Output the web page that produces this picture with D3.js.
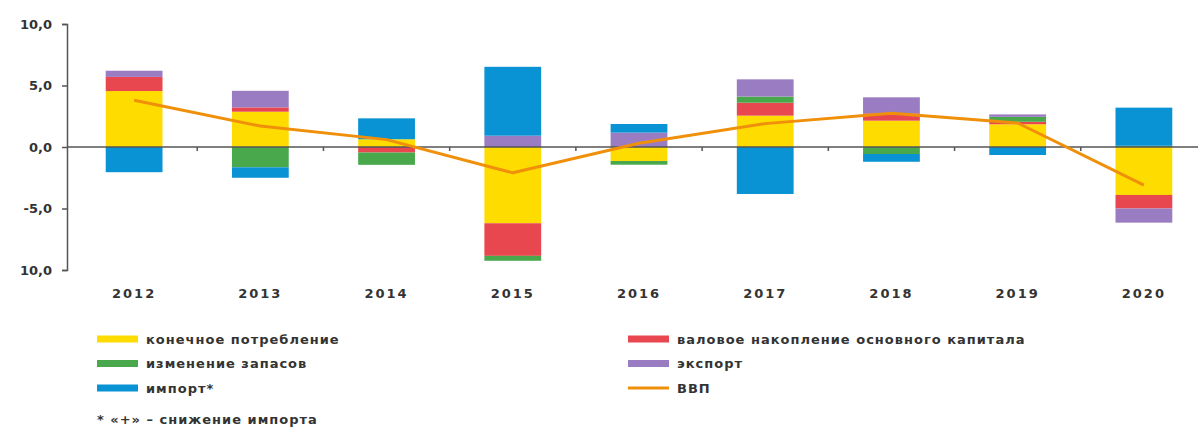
<!DOCTYPE html>
<html>
<head>
<meta charset="utf-8">
<script src="https://cdn.jsdelivr.net/npm/d3@7"></script>
<style>
  body { margin: 0; background: #fff; }
  svg { display: block; font-family: "DejaVu Sans", sans-serif; }
</style>
</head>
<body>
<div id="chart"></div>
<script>
// Вклад компонентов в рост ВВП, п.п.
const years = ['2012', '2013', '2014', '2015', '2016', '2017', '2018', '2019', '2020'];
const consumption = [4.55, 2.87, 0.63, -6.2, -1.14, 2.55, 2.14, 1.85, -3.9];
const investment = [1.15, 0.35, -0.45, -2.65, 0, 1.05, 0.6, 0.2, -1.1];
const inventories = [0, -1.65, -1.0, -0.4, -0.3, 0.5, -0.57, 0.4, 0.1];
const exports = [0.5, 1.35, 0, 0.92, 1.17, 1.4, 1.3, 0.2, -1.15];
const imports = [-2.05, -0.85, 1.7, 5.6, 0.7, -3.82, -0.63, -0.65, 3.1];
const gdp = [3.8, 1.7, 0.6, -2.1, 0.3, 1.9, 2.75, 1.95, -3.1];

const yTicks = [10, 5, 0, -5, -10];
const yTickLabels = ['10,0', '5,0', '0,0', '-5,0', '10,0'];

const seriesKeys = ['consumption', 'investment', 'inventories', 'exports', 'imports'];
const seriesNames = {
  consumption: 'конечное потребление',
  investment: 'валовое накопление основного капитала',
  inventories: 'изменение запасов',
  exports: 'экспорт',
  imports: 'импорт*'
};
const colors = {
  consumption: '#ffdc00',
  investment: '#e8474f',
  inventories: '#4aa84c',
  exports: '#9a7cc2',
  imports: '#0a93d4',
  gdp: '#f0900a'
};

const width = 1198;
const height = 428;

const svg = d3.select('#chart').append('svg')
  .attr('width', width)
  .attr('height', height);

const rows = years.map((yr, i) => ({
  year: yr,
  consumption: consumption[i],
  investment: investment[i],
  inventories: inventories[i],
  exports: exports[i],
  imports: imports[i]
}));

const series = d3.stack()
  .keys(seriesKeys)
  .offset(d3.stackOffsetDiverging)(rows);

const x = d3.scaleBand()
  .domain(years)
  .range([71, 1207])
  .paddingInner(0.55)
  .paddingOuter(0.275);

const y = d3.scaleLinear()
  .domain([-10, 10])
  .range([270, 24]);

// Bars
svg.append('g').selectAll('g')
  .data(series)
  .join('g')
  .attr('fill', d => colors[d.key])
  .selectAll('rect')
  .data(d => d)
  .join('rect')
  .attr('x', d => x(d.data.year))
  .attr('width', x.bandwidth())
  .attr('y', d => y(Math.max(d[0], d[1])))
  .attr('height', d => Math.abs(y(d[0]) - y(d[1])));

// Zero line with ticks between categories
svg.append('line')
  .attr('x1', 67).attr('x2', width)
  .attr('y1', y(0)).attr('y2', y(0))
  .attr('stroke', '#555').attr('stroke-width', 1.5);

svg.append('g').selectAll('line')
  .data(years.slice(1))
  .join('line')
  .attr('x1', d => x(d) - x.step() * x.paddingInner() / 2)
  .attr('x2', d => x(d) - x.step() * x.paddingInner() / 2)
  .attr('y1', y(0))
  .attr('y2', y(0) + 4)
  .attr('stroke', '#555').attr('stroke-width', 1.5);

// Y axis
const yAxis = svg.append('g')
  .attr('transform', 'translate(67,0)')
  .call(d3.axisLeft(y).tickValues(yTicks).tickSize(5).tickPadding(10)
    .tickFormat((d, i) => yTickLabels[i]));
yAxis.select('.domain').attr('stroke', '#555').attr('stroke-width', 1.5);
yAxis.selectAll('.tick line').attr('stroke', '#555').attr('stroke-width', 1.5);
yAxis.selectAll('.tick text')
  .attr('fill', '#333')
  .attr('font-size', '13px')
  .attr('font-weight', 'bold')
  .attr('font-family', '"DejaVu Sans", sans-serif');

// X labels
svg.append('g').selectAll('text')
  .data(years)
  .join('text')
  .attr('x', d => x(d) + x.bandwidth() / 2)
  .attr('y', 298)
  .attr('text-anchor', 'middle')
  .attr('fill', '#333')
  .attr('font-size', '13px')
  .attr('font-weight', 'bold')
  .attr('letter-spacing', '2px')
  .text(d => d);

// GDP line
const line = d3.line()
  .x((d, i) => x(years[i]) + x.bandwidth() / 2)
  .y(d => y(d));

svg.append('path')
  .datum(gdp)
  .attr('fill', 'none')
  .attr('stroke', colors.gdp)
  .attr('stroke-width', 3)
  .attr('stroke-linejoin', 'round')
  .attr('d', line);

// Legend
const legendItems = [
  { key: 'consumption', col: 0, row: 0 },
  { key: 'inventories', col: 0, row: 1 },
  { key: 'imports', col: 0, row: 2 },
  { key: 'investment', col: 1, row: 0 },
  { key: 'exports', col: 1, row: 1 },
  { key: 'gdp', col: 1, row: 2, label: 'ВВП' }
];
const colX = [97, 628];
const legend = svg.append('g');
legendItems.forEach(it => {
  const g = legend.append('g')
    .attr('transform', `translate(${colX[it.col]},${339 + it.row * 24.5})`);
  if (it.key === 'gdp') {
    g.append('rect').attr('x', 0).attr('y', -1.5).attr('width', 41).attr('height', 3).attr('fill', colors.gdp);
  } else {
    g.append('rect').attr('x', 0).attr('y', -3.5).attr('width', 41).attr('height', 7).attr('fill', colors[it.key]);
  }
  g.append('text')
    .attr('x', 49)
    .attr('y', 4.5)
    .attr('fill', '#333')
    .attr('font-size', '13px')
    .attr('font-weight', 'bold')
    .attr('letter-spacing', '1px')
    .text(it.label || seriesNames[it.key]);
});

svg.append('text')
  .attr('x', 97)
  .attr('y', 424)
  .attr('fill', '#333')
  .attr('font-size', '13px')
  .attr('font-weight', 'bold')
  .attr('letter-spacing', '1px')
  .text('* «+» – снижение импорта');
</script>
</body>
</html>
